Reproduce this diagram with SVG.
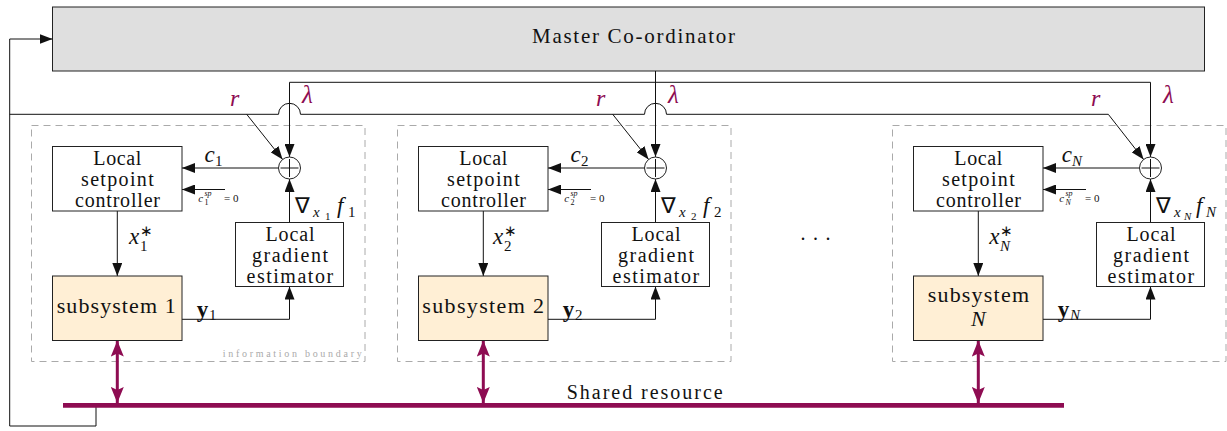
<svg xmlns="http://www.w3.org/2000/svg" width="1227" height="431" viewBox="0 0 1227 431">
<style>
.dg-box{fill:#fff;stroke:#222;stroke-width:1}
.dg-sub{fill:#ffefd5;stroke:#222;stroke-width:1}
.dg-master{fill:#dfdfdf;stroke:#222;stroke-width:1}
.dg-bound{fill:none;stroke:#aaa;stroke-width:1;stroke-dasharray:7 5}
.dg-wire{stroke:#111;stroke-width:1;fill:none}
.dg-res{stroke:#8e0c52;stroke-width:3;fill:none}
</style>
<defs>
<marker id="ah" markerUnits="userSpaceOnUse" markerWidth="13" markerHeight="10" refX="13" refY="5" orient="auto"><path d="M0,0 L13,5 L0,10 z" fill="#111"/></marker>
<marker id="ph" markerUnits="userSpaceOnUse" markerWidth="16" markerHeight="13" refX="16" refY="6.5" orient="auto-start-reverse"><path d="M0,0 L16,6.5 L0,13 L3,6.5 z" fill="#8e0c52"/></marker>
</defs>

<g id="master">
<rect class="dg-master" x="52.5" y="7" width="1152" height="64"/>
<text x="532" y="43.3" style="font-family:'Liberation Serif',serif;font-size:21px;fill:#111" textLength="203" lengthAdjust="spacing">Master Co-ordinator</text>
</g>

<g id="boundaries">
<rect class="dg-bound" x="31.5" y="125.5" width="333.5" height="236"/>
<rect class="dg-bound" x="397.5" y="125.5" width="333.5" height="236"/>
<rect class="dg-bound" x="892.5" y="125.5" width="333.5" height="236"/>
<text x="222.7" y="356.5" style="font-family:'Liberation Serif',serif;font-size:10px;fill:#aaa" textLength="139" lengthAdjust="spacing">information boundary</text>
</g>

<g id="connectors">
<path class="dg-wire" d="M96,405 V426 H9.7 V39 H52.5" marker-end="url(#ah)"/>
<path class="dg-wire" d="M9.7,114.3 H278.5 A11,11 0 0 1 300.5,114.3 H644.5 A11,11 0 0 1 666.5,114.3 H1108.3 L1143.6,159.4" marker-end="url(#ah)"/>
<path class="dg-wire" d="M289.5,82.3 H1150.5"/>
<path class="dg-wire" d="M655.5,71 V157" marker-end="url(#ah)"/>
<path class="dg-wire" d="M289.5,82.3 V157" marker-end="url(#ah)"/>
<path class="dg-wire" d="M1150.5,82.3 V157" marker-end="url(#ah)"/>
<g id="sec1-links">
<path class="dg-wire" d="M246.7,114.3 L282.6,159.4" marker-end="url(#ah)"/>
<path class="dg-wire" d="M278.5,168 H182" marker-end="url(#ah)"/>
<path class="dg-wire" d="M225,189.5 H182" marker-end="url(#ah)"/>
<path class="dg-wire" d="M289.5,222.5 V179" marker-end="url(#ah)"/>
<path class="dg-wire" d="M117.3,211 V276" marker-end="url(#ah)"/>
<path class="dg-wire" d="M182,319.3 H289.5 V286.5" marker-end="url(#ah)"/>
<path class="dg-res" d="M117.3,340.5 V403" marker-start="url(#ph)" marker-end="url(#ph)"/>
</g>
<g id="sec2-links" transform="translate(366,0)">
<path class="dg-wire" d="M246.7,114.3 L282.6,159.4" marker-end="url(#ah)"/>
<path class="dg-wire" d="M278.5,168 H182" marker-end="url(#ah)"/>
<path class="dg-wire" d="M225,189.5 H182" marker-end="url(#ah)"/>
<path class="dg-wire" d="M289.5,222.5 V179" marker-end="url(#ah)"/>
<path class="dg-wire" d="M117.3,211 V276" marker-end="url(#ah)"/>
<path class="dg-wire" d="M182,319.3 H289.5 V286.5" marker-end="url(#ah)"/>
<path class="dg-res" d="M117.3,340.5 V403" marker-start="url(#ph)" marker-end="url(#ph)"/>
</g>
<g id="secN-links" transform="translate(861,0)">
<path class="dg-wire" d="M278.5,168 H182" marker-end="url(#ah)"/>
<path class="dg-wire" d="M225,189.5 H182" marker-end="url(#ah)"/>
<path class="dg-wire" d="M289.5,222.5 V179" marker-end="url(#ah)"/>
<path class="dg-wire" d="M117.3,211 V276" marker-end="url(#ah)"/>
<path class="dg-wire" d="M182,319.3 H289.5 V286.5" marker-end="url(#ah)"/>
<path class="dg-res" d="M117.3,340.5 V403" marker-start="url(#ph)" marker-end="url(#ph)"/>
</g>
</g>

<g id="shared-resource">
<path d="M63,405.3 H1064" stroke="#8e0c52" stroke-width="4.7"/>
<text x="566.7" y="399" style="font-family:'Liberation Serif',serif;font-size:20px;fill:#111" textLength="156" lengthAdjust="spacing">Shared resource</text>
</g>

<g id="signal-labels">
<text x="230" y="106" style="font-family:'Liberation Serif',serif;font-style:italic;font-size:24px;fill:#8e0c52">r</text>
<text x="302" y="103" style="font-family:'Liberation Serif',serif;font-style:italic;font-size:25px;fill:#8e0c52">λ</text>
<text x="596" y="106" style="font-family:'Liberation Serif',serif;font-style:italic;font-size:24px;fill:#8e0c52">r</text>
<text x="668" y="103" style="font-family:'Liberation Serif',serif;font-style:italic;font-size:25px;fill:#8e0c52">λ</text>
<text x="1091" y="106" style="font-family:'Liberation Serif',serif;font-style:italic;font-size:24px;fill:#8e0c52">r</text>
<text x="1163" y="103" style="font-family:'Liberation Serif',serif;font-style:italic;font-size:25px;fill:#8e0c52">λ</text>
<text x="800.5 813 825.5" y="240" style="font-family:'Liberation Serif',serif;font-size:20px;fill:#111">...</text>
</g>

<!-- Section 1 -->
<g id="setpoint1">
<rect class="dg-box" x="52.5" y="146.5" width="129.5" height="64.5"/>
<text x="93.3" y="165" style="font-family:'Liberation Serif',serif;font-size:20px;fill:#111" textLength="48" lengthAdjust="spacing">Local</text>
<text x="81" y="186" style="font-family:'Liberation Serif',serif;font-size:20px;fill:#111" textLength="72.7" lengthAdjust="spacing">setpoint</text>
<text x="75" y="206.5" style="font-family:'Liberation Serif',serif;font-size:20px;fill:#111" textLength="85" lengthAdjust="spacing">controller</text>
</g>
<g id="estimator1">
<rect class="dg-box" x="235.5" y="222.5" width="108" height="64"/>
<text x="265.5" y="240.7" style="font-family:'Liberation Serif',serif;font-size:20px;fill:#111" textLength="49" lengthAdjust="spacing">Local</text>
<text x="252" y="262" style="font-family:'Liberation Serif',serif;font-size:20px;fill:#111" textLength="76" lengthAdjust="spacing">gradient</text>
<text x="246.5" y="283.3" style="font-family:'Liberation Serif',serif;font-size:20px;fill:#111" textLength="86.6" lengthAdjust="spacing">estimator</text>
</g>
<g id="sum1">
<circle class="dg-box" cx="289.5" cy="168" r="11"/>
<path class="dg-wire" d="M280.5,168 H298.5 M289.5,159 V177"/>
</g>
<g id="subsystem1">
<rect class="dg-sub" x="52.5" y="276" width="129.5" height="64.5"/>
<text x="56.7" y="313.3" style="font-family:'Liberation Serif',serif;font-size:22px;fill:#111" textLength="119" lengthAdjust="spacing">subsystem 1</text>
</g>
<g id="labels1">
<text x="204.5" y="162" style="font-family:'Liberation Serif',serif;font-style:italic;font-size:23px;fill:#111">c</text>
<text x="215" y="166" style="font-family:'Liberation Serif',serif;font-size:15px;fill:#111">1</text>
<text x="198.3" y="202" style="font-family:'Liberation Serif',serif;font-style:italic;font-size:11px;fill:#111">c</text>
<text x="204.5" y="196" style="font-family:'Liberation Serif',serif;font-style:italic;font-size:8px;fill:#111">sp</text>
<text x="204.5" y="205" style="font-family:'Liberation Serif',serif;font-size:8px;fill:#111">1</text>
<text x="224" y="202" style="font-family:'Liberation Serif',serif;font-size:11px;fill:#111">= 0</text>
<text x="295" y="213" style="font-family:'Liberation Serif',serif;font-size:22px;fill:#111">∇</text>
<text x="313" y="217" style="font-family:'Liberation Serif',serif;font-style:italic;font-size:15px;fill:#111">x</text>
<text x="325" y="220" style="font-family:'Liberation Serif',serif;font-size:11px;fill:#111">1</text>
<text x="337" y="213" style="font-family:'Liberation Serif',serif;font-style:italic;font-size:23px;fill:#111">f</text>
<text x="348" y="217" style="font-family:'Liberation Serif',serif;font-size:15px;fill:#111">1</text>
<text x="129" y="244" style="font-family:'Liberation Serif',serif;font-style:italic;font-size:23px;fill:#111">x</text>
<text x="140" y="236" style="font-family:'Liberation Serif',serif;font-size:15px;fill:#111">∗</text>
<text x="140" y="251" style="font-family:'Liberation Serif',serif;font-size:15px;fill:#111">1</text>
<text x="196.7" y="316.7" style="font-family:'Liberation Serif',serif;font-weight:bold;font-size:23px;fill:#111">y</text>
<text x="209" y="320" style="font-family:'Liberation Serif',serif;font-size:15px;fill:#111">1</text>
</g>

<!-- Section 2 -->
<g id="setpoint2" transform="translate(366,0)">
<rect class="dg-box" x="52.5" y="146.5" width="129.5" height="64.5"/>
<text x="93.3" y="165" style="font-family:'Liberation Serif',serif;font-size:20px;fill:#111" textLength="48" lengthAdjust="spacing">Local</text>
<text x="81" y="186" style="font-family:'Liberation Serif',serif;font-size:20px;fill:#111" textLength="72.7" lengthAdjust="spacing">setpoint</text>
<text x="75" y="206.5" style="font-family:'Liberation Serif',serif;font-size:20px;fill:#111" textLength="85" lengthAdjust="spacing">controller</text>
</g>
<g id="estimator2" transform="translate(366,0)">
<rect class="dg-box" x="235.5" y="222.5" width="108" height="64"/>
<text x="265.5" y="240.7" style="font-family:'Liberation Serif',serif;font-size:20px;fill:#111" textLength="49" lengthAdjust="spacing">Local</text>
<text x="252" y="262" style="font-family:'Liberation Serif',serif;font-size:20px;fill:#111" textLength="76" lengthAdjust="spacing">gradient</text>
<text x="246.5" y="283.3" style="font-family:'Liberation Serif',serif;font-size:20px;fill:#111" textLength="86.6" lengthAdjust="spacing">estimator</text>
</g>
<g id="sum2" transform="translate(366,0)">
<circle class="dg-box" cx="289.5" cy="168" r="11"/>
<path class="dg-wire" d="M280.5,168 H298.5 M289.5,159 V177"/>
</g>
<g id="subsystem2" transform="translate(366,0)">
<rect class="dg-sub" x="52.5" y="276" width="129.5" height="64.5"/>
<text x="56.3" y="313.3" style="font-family:'Liberation Serif',serif;font-size:22px;fill:#111" textLength="121.7" lengthAdjust="spacing">subsystem 2</text>
</g>
<g id="labels2" transform="translate(366,0)">
<text x="204.5" y="162" style="font-family:'Liberation Serif',serif;font-style:italic;font-size:23px;fill:#111">c</text>
<text x="215" y="166" style="font-family:'Liberation Serif',serif;font-size:15px;fill:#111">2</text>
<text x="198.3" y="202" style="font-family:'Liberation Serif',serif;font-style:italic;font-size:11px;fill:#111">c</text>
<text x="204.5" y="196" style="font-family:'Liberation Serif',serif;font-style:italic;font-size:8px;fill:#111">sp</text>
<text x="204.5" y="205" style="font-family:'Liberation Serif',serif;font-size:8px;fill:#111">2</text>
<text x="224" y="202" style="font-family:'Liberation Serif',serif;font-size:11px;fill:#111">= 0</text>
<text x="295" y="213" style="font-family:'Liberation Serif',serif;font-size:22px;fill:#111">∇</text>
<text x="313" y="217" style="font-family:'Liberation Serif',serif;font-style:italic;font-size:15px;fill:#111">x</text>
<text x="325" y="220" style="font-family:'Liberation Serif',serif;font-size:11px;fill:#111">2</text>
<text x="337" y="213" style="font-family:'Liberation Serif',serif;font-style:italic;font-size:23px;fill:#111">f</text>
<text x="348" y="217" style="font-family:'Liberation Serif',serif;font-size:15px;fill:#111">2</text>
<text x="127" y="244" style="font-family:'Liberation Serif',serif;font-style:italic;font-size:23px;fill:#111">x</text>
<text x="138" y="236" style="font-family:'Liberation Serif',serif;font-size:15px;fill:#111">∗</text>
<text x="138" y="251" style="font-family:'Liberation Serif',serif;font-size:15px;fill:#111">2</text>
<text x="196.7" y="316.7" style="font-family:'Liberation Serif',serif;font-weight:bold;font-size:23px;fill:#111">y</text>
<text x="209" y="320" style="font-family:'Liberation Serif',serif;font-size:15px;fill:#111">2</text>
</g>

<!-- Section N -->
<g id="setpointN" transform="translate(861,0)">
<rect class="dg-box" x="52.5" y="146.5" width="129.5" height="64.5"/>
<text x="93.3" y="165" style="font-family:'Liberation Serif',serif;font-size:20px;fill:#111" textLength="48" lengthAdjust="spacing">Local</text>
<text x="81" y="186" style="font-family:'Liberation Serif',serif;font-size:20px;fill:#111" textLength="72.7" lengthAdjust="spacing">setpoint</text>
<text x="75" y="206.5" style="font-family:'Liberation Serif',serif;font-size:20px;fill:#111" textLength="85" lengthAdjust="spacing">controller</text>
</g>
<g id="estimatorN" transform="translate(861,0)">
<rect class="dg-box" x="235.5" y="222.5" width="108" height="64"/>
<text x="265.5" y="240.7" style="font-family:'Liberation Serif',serif;font-size:20px;fill:#111" textLength="49" lengthAdjust="spacing">Local</text>
<text x="252" y="262" style="font-family:'Liberation Serif',serif;font-size:20px;fill:#111" textLength="76" lengthAdjust="spacing">gradient</text>
<text x="246.5" y="283.3" style="font-family:'Liberation Serif',serif;font-size:20px;fill:#111" textLength="86.6" lengthAdjust="spacing">estimator</text>
</g>
<g id="sumN" transform="translate(861,0)">
<circle class="dg-box" cx="289.5" cy="168" r="11"/>
<path class="dg-wire" d="M280.5,168 H298.5 M289.5,159 V177"/>
</g>
<g id="subsystemN" transform="translate(861,0)">
<rect class="dg-sub" x="52.5" y="276" width="129.5" height="64.5"/>
<text x="66.7" y="301.7" style="font-family:'Liberation Serif',serif;font-size:22px;fill:#111" textLength="101.3" lengthAdjust="spacing">subsystem</text>
<text x="117.3" y="326" text-anchor="middle" style="font-family:'Liberation Serif',serif;font-style:italic;font-size:22px;fill:#111">N</text>
</g>
<g id="labelsN" transform="translate(861,0)">
<text x="200.7" y="162" style="font-family:'Liberation Serif',serif;font-style:italic;font-size:23px;fill:#111">c</text>
<text x="211" y="166" style="font-family:'Liberation Serif',serif;font-style:italic;font-size:15px;fill:#111">N</text>
<text x="198.3" y="202" style="font-family:'Liberation Serif',serif;font-style:italic;font-size:11px;fill:#111">c</text>
<text x="204.5" y="196" style="font-family:'Liberation Serif',serif;font-style:italic;font-size:8px;fill:#111">sp</text>
<text x="204.5" y="205" style="font-family:'Liberation Serif',serif;font-style:italic;font-size:8px;fill:#111">N</text>
<text x="224" y="202" style="font-family:'Liberation Serif',serif;font-size:11px;fill:#111">= 0</text>
<text x="295" y="213" style="font-family:'Liberation Serif',serif;font-size:22px;fill:#111">∇</text>
<text x="313" y="217" style="font-family:'Liberation Serif',serif;font-style:italic;font-size:15px;fill:#111">x</text>
<text x="323" y="220" style="font-family:'Liberation Serif',serif;font-style:italic;font-size:11px;fill:#111">N</text>
<text x="335" y="213" style="font-family:'Liberation Serif',serif;font-style:italic;font-size:23px;fill:#111">f</text>
<text x="345" y="217" style="font-family:'Liberation Serif',serif;font-style:italic;font-size:15px;fill:#111">N</text>
<text x="128.3" y="244" style="font-family:'Liberation Serif',serif;font-style:italic;font-size:23px;fill:#111">x</text>
<text x="139" y="236" style="font-family:'Liberation Serif',serif;font-size:15px;fill:#111">∗</text>
<text x="139" y="251" style="font-family:'Liberation Serif',serif;font-style:italic;font-size:15px;fill:#111">N</text>
<text x="196.7" y="316.7" style="font-family:'Liberation Serif',serif;font-weight:bold;font-size:23px;fill:#111">y</text>
<text x="209" y="320" style="font-family:'Liberation Serif',serif;font-style:italic;font-size:15px;fill:#111">N</text>
</g>
</svg>
